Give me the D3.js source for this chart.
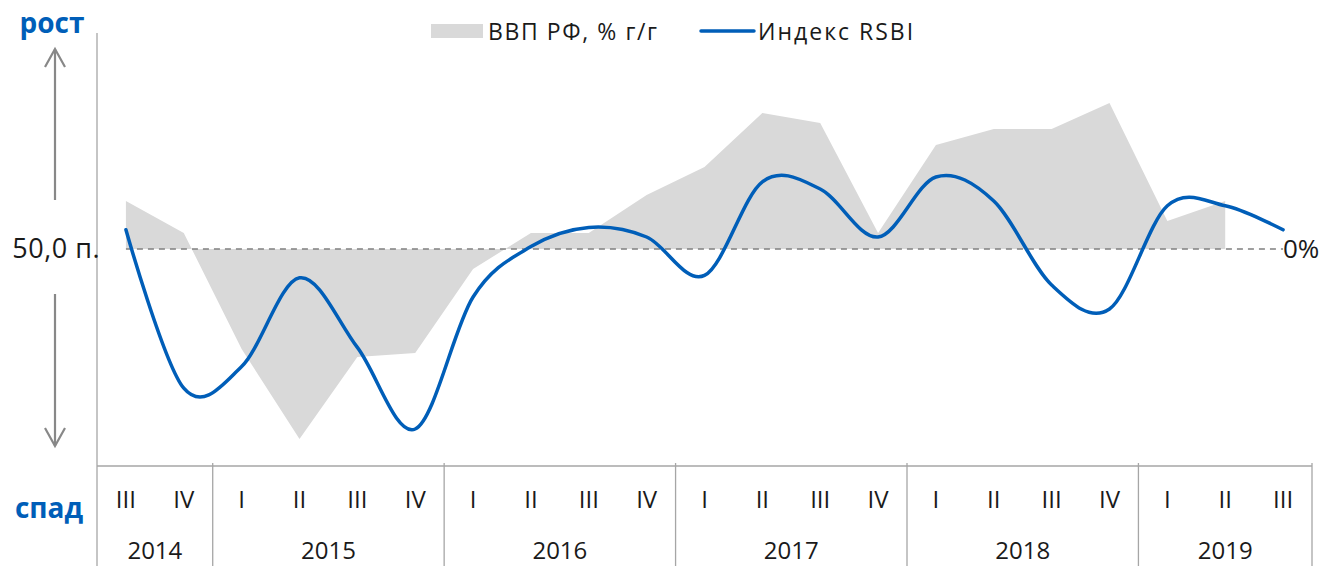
<!DOCTYPE html>
<html>
<head>
<meta charset="utf-8">
<script src="https://cdn.jsdelivr.net/npm/d3@7"></script>
<style>
  html, body { margin: 0; padding: 0; background: #fff; }
  svg { display: block; }
  text { font-family: "Open Sans", "Noto Sans", "DejaVu Sans", sans-serif; }
</style>
</head>
<body>
<svg id="chart" width="1322" height="566"></svg>
<script>
// ---- data ----
const years = ["2014", "2015", "2016", "2017", "2018", "2019"];
const quartersPerYear = [2, 4, 4, 4, 4, 3];
const quarterLabels = ["III", "IV",
  "I", "II", "III", "IV",
  "I", "II", "III", "IV",
  "I", "II", "III", "IV",
  "I", "II", "III", "IV",
  "I", "II", "III"];
// ВВП РФ, % г/г (area, 20 quarters: 2014 III – 2019 II)
const gdp = [1.2, 0.4, -2.5, -4.75, -2.7, -2.6, -0.5, 0.4, 0.4, 1.35,
  2.05, 3.4, 3.15, 0.4, 2.6, 3.0, 3.0, 3.65, 0.7, 1.2];
// Индекс RSBI (line, 21 quarters: 2014 III – 2019 III)
const rsbi = [50.8, 44.2, 45.1, 48.8, 45.9, 42.5, 48.0, 50.1, 50.9, 50.5,
  48.9, 52.8, 52.5, 50.5, 53.0, 52.0, 48.5, 47.5, 51.8, 51.8, 50.8];
const legendLabels = ["ВВП РФ, % г/г", "Индекс RSBI"];

(function () {
// ---- layout ----
const svg = d3.select("#chart");
const L = 97, R = 1312, T = 33, axisY = 466, bottomY = 566;
const blue = "#005EB8", grey = "#D9D9D9", axisGrey = "#A6A6A6", ink = "#1a1a1a";

const keys = quarterLabels.map((q, i) => i);
const x = d3.scaleBand().domain(keys).range([L, R]).paddingInner(0).paddingOuter(0);
const cx = i => x(i) + x.bandwidth() / 2;

const yGdp = d3.scaleLinear().domain([-5.4, 5.4]).range([465, 33]);
const yR = d3.scaleLinear().domain([41, 59]).range([465, 33]);

// GDP area
const area = d3.area()
  .x((d, i) => cx(i))
  .y0(yGdp(0))
  .y1(d => yGdp(d))
  .curve(d3.curveLinear);
svg.append("path").datum(gdp).attr("d", area).attr("fill", grey);

// 50 / 0% reference dashed line
svg.append("line")
  .attr("x1", cx(0)).attr("x2", cx(rsbi.length - 1))
  .attr("y1", yR(50)).attr("y2", yR(50))
  .attr("stroke", "#808080").attr("stroke-width", 1.6)
  .attr("stroke-dasharray", "6,5");

// RSBI line
const line = d3.line()
  .x((d, i) => cx(i))
  .y(d => yR(d))
  .curve(d3.curveCatmullRom.alpha(0));
svg.append("path").datum(rsbi).attr("d", line)
  .attr("fill", "none").attr("stroke", blue).attr("stroke-width", 3.5)
  .attr("stroke-linejoin", "round").attr("stroke-linecap", "round");

// axes
svg.append("line").attr("x1", L).attr("x2", L).attr("y1", T).attr("y2", bottomY)
  .attr("stroke", axisGrey).attr("stroke-width", 1.3);
svg.append("line").attr("x1", L).attr("x2", R).attr("y1", axisY).attr("y2", axisY)
  .attr("stroke", axisGrey).attr("stroke-width", 1.3);

// year group separators and labels
let idx = 0;
years.forEach((yr, k) => {
  const n = quartersPerYear[k];
  const x0 = x(idx), x1 = x(idx + n - 1) + x.bandwidth();
  svg.append("line").attr("x1", x1).attr("x2", x1).attr("y1", axisY - 3).attr("y2", bottomY)
    .attr("stroke", axisGrey).attr("stroke-width", 1.3);
  svg.append("text").attr("x", (x0 + x1) / 2).attr("y", 559)
    .attr("text-anchor", "middle").attr("font-size", 24).attr("fill", ink)
    .text(yr);
  idx += n;
});

// quarter labels
svg.selectAll("text.q").data(quarterLabels).enter().append("text")
  .attr("class", "q")
  .attr("x", (d, i) => cx(i)).attr("y", 508)
  .attr("text-anchor", "middle").attr("font-size", 24).attr("fill", ink)
  .text(d => d);

// left labels
svg.append("text").attr("x", 52).attr("y", 33).attr("text-anchor", "middle")
  .attr("font-size", 28).attr("font-weight", "bold").attr("fill", blue).text("рост");
svg.append("text").attr("x", 49).attr("y", 518).attr("text-anchor", "middle")
  .attr("font-size", 28).attr("font-weight", "bold").attr("fill", blue).text("спад");
svg.append("text").attr("x", 100).attr("y", yR(50) + 9).attr("text-anchor", "end")
  .attr("font-size", 27).attr("letter-spacing", 0.5).attr("fill", ink).text("50,0 п.");
svg.append("text").attr("x", 1283).attr("y", yGdp(0) + 9).attr("text-anchor", "start")
  .attr("font-size", 26).attr("fill", ink).text("0%");

// arrows
const arrowCol = "#888";
function arrow(xa, yFrom, yTo) {
  svg.append("line").attr("x1", xa).attr("x2", xa).attr("y1", yFrom).attr("y2", yTo)
    .attr("stroke", arrowCol).attr("stroke-width", 2.2);
  const dir = yTo < yFrom ? 1 : -1;
  svg.append("path")
    .attr("d", `M${xa - 10},${yTo + dir * 18} L${xa},${yTo} L${xa + 10},${yTo + dir * 18}`)
    .attr("fill", "none").attr("stroke", arrowCol).attr("stroke-width", 2.2);
}
arrow(55, 200, 49);
arrow(55, 294, 446);

// legend
svg.append("rect").attr("x", 431).attr("y", 24).attr("width", 52).attr("height", 14).attr("fill", grey);
svg.append("text").attr("x", 488).attr("y", 40).attr("font-size", 23).attr("letter-spacing", 1.6)
  .attr("fill", ink).text(legendLabels[0]);
svg.append("line").attr("x1", 701).attr("x2", 754).attr("y1", 31).attr("y2", 31)
  .attr("stroke", blue).attr("stroke-width", 3.5).attr("stroke-linecap", "round");
svg.append("text").attr("x", 758).attr("y", 40).attr("font-size", 23).attr("letter-spacing", 2)
  .attr("fill", ink).text(legendLabels[1]);
})();
</script>
</body>
</html>
